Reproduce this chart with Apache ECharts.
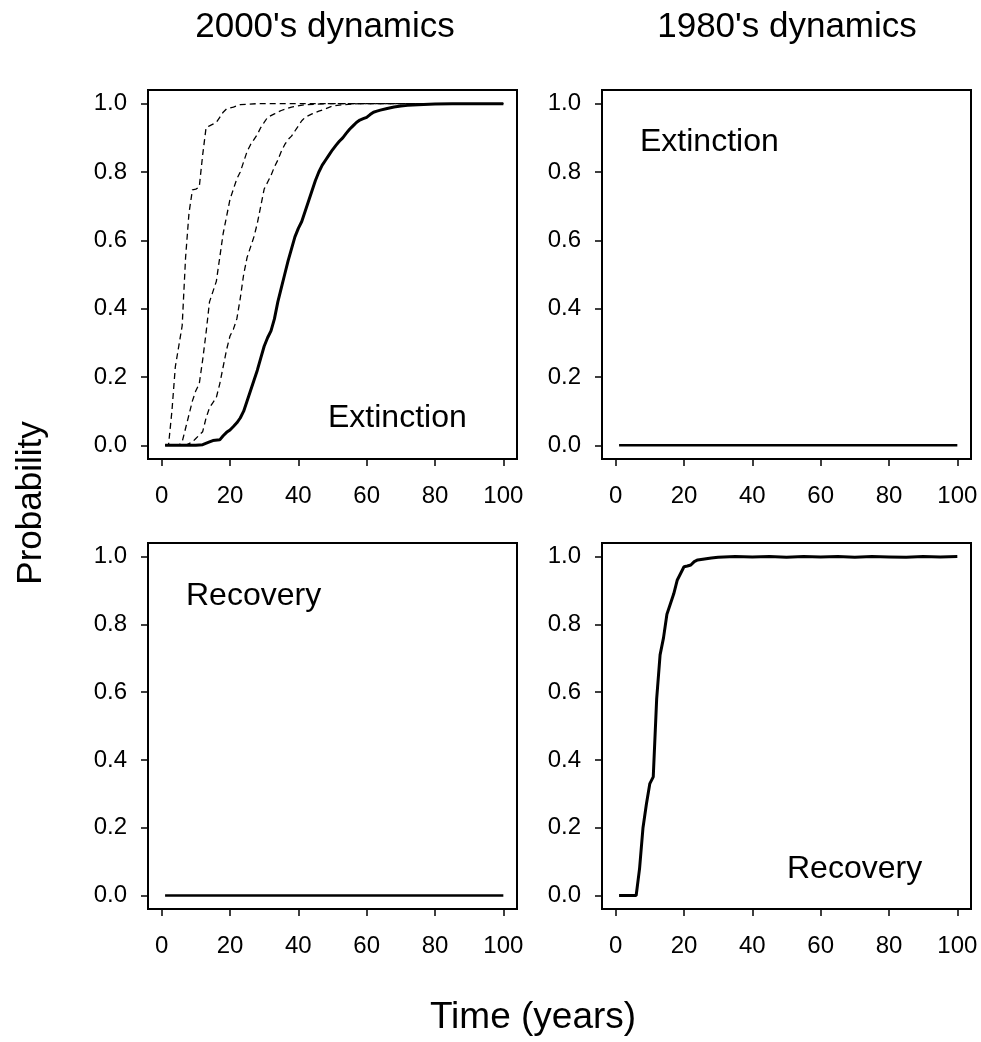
<!DOCTYPE html>
<html>
<head>
<meta charset="utf-8">
<script src="https://cdn.jsdelivr.net/npm/echarts@6/dist/echarts.min.js"></script>
<style>
html,body{margin:0;padding:0;background:#fff;}
#chart{width:981px;height:1042px;}
</style>
</head>
<body>
<div id="chart"></div>
<script>
// ---- Data (year, probability) ----
const xTicks = [0, 20, 40, 60, 80, 100];
const yTicks = [0.0, 0.2, 0.4, 0.6, 0.8, 1.0];

const panelTitles = ["2000's dynamics", "1980's dynamics"];
const panelLabels = ["Extinction", "Extinction", "Recovery", "Recovery"];

// 2000's extinction: main (solid) curve
const ext2000Main = [[1,0],[5,0],[10,0],[12,0.002],[14,0.01],[15,0.014],[17,0.016],[18,0.028],[19,0.038],[20,0.045],[21,0.055],[22,0.066],[23,0.08],[24,0.1],[25,0.13],[26,0.16],[27,0.19],[28,0.22],[29,0.255],[30,0.29],[31,0.315],[32,0.335],[33,0.37],[34,0.42],[35,0.46],[36,0.5],[37,0.54],[38,0.575],[39,0.61],[40,0.635],[41,0.655],[42,0.685],[43,0.715],[44,0.745],[45,0.775],[46,0.8],[47,0.82],[48,0.835],[49,0.85],[50,0.865],[51,0.878],[52,0.89],[53,0.9],[54,0.913],[55,0.925],[56,0.935],[57,0.945],[58,0.952],[59,0.956],[60,0.96],[61,0.968],[62,0.975],[63,0.978],[64,0.981],[66,0.986],[68,0.99],[70,0.993],[72,0.995],[75,0.997],[80,0.999],[85,1.0],[100,1.0]];
// 2000's extinction: dashed curves
const ext2000DashA = [[1,0],[2,0],[3,0.1],[4,0.23],[5,0.29],[6,0.35],[7,0.55],[8,0.68],[9,0.748],[10,0.75],[11,0.756],[12,0.85],[13,0.93],[14,0.935],[15,0.94],[16,0.945],[17,0.96],[18,0.975],[19,0.985],[21,0.99],[23,0.997],[28,1.0],[100,1.0]];
const ext2000DashB = [[1,0],[5,0],[6,0.01],[7,0.05],[8,0.09],[9,0.13],[10,0.16],[11,0.18],[12,0.25],[13,0.33],[14,0.42],[15,0.45],[16,0.48],[17,0.55],[18,0.62],[19,0.67],[20,0.72],[21,0.75],[22,0.78],[23,0.8],[24,0.83],[25,0.86],[26,0.88],[27,0.895],[28,0.91],[29,0.93],[30,0.945],[31,0.96],[33,0.97],[35,0.98],[38,0.99],[42,0.997],[48,1.0],[100,1.0]];
const ext2000DashC = [[1,0],[7,0],[8,0.005],[9,0.01],[10,0.02],[11,0.03],[12,0.04],[13,0.08],[14,0.11],[15,0.125],[16,0.14],[17,0.18],[18,0.23],[19,0.28],[20,0.32],[21,0.34],[22,0.37],[23,0.43],[24,0.5],[25,0.55],[26,0.58],[27,0.61],[28,0.65],[29,0.7],[30,0.75],[31,0.77],[32,0.79],[33,0.815],[34,0.835],[35,0.86],[36,0.88],[37,0.895],[38,0.905],[39,0.92],[40,0.935],[41,0.95],[42,0.96],[44,0.97],[46,0.978],[48,0.985],[50,0.993],[53,0.997],[58,1.0],[100,1.0]];
// 1980's extinction
const ext1980 = [[1,0],[100,0]];
// 2000's recovery
const rec2000 = [[1,0],[100,0]];
// 1980's recovery
const rec1980 = [[1,0],[6,0],[7,0.08],[8,0.2],[9,0.27],[10,0.33],[11,0.35],[12,0.58],[13,0.71],[14,0.76],[15,0.83],[16,0.86],[17,0.89],[18,0.93],[19,0.95],[20,0.97],[21,0.972],[22,0.975],[23,0.985],[24,0.99],[26,0.993],[28,0.996],[30,0.998],[35,1.0],[40,0.999],[45,1.0],[50,0.998],[55,1.0],[60,0.999],[65,1.0],[70,0.998],[75,1.0],[80,0.999],[85,0.998],[90,1.0],[95,0.999],[100,1.0]];

// ---- Layout ----
const FONT = 'Liberation Sans, Arial, sans-serif';
const grids = [
  {left:148, top:90, width:369, height:369},
  {left:602, top:90, width:369, height:369},
  {left:148, top:543, width:369, height:366},
  {left:602, top:543, width:369, height:366}
];

const chart = echarts.init(document.getElementById('chart'), null, {renderer:'canvas'});

const xAxes = grids.map((g,i)=>({
  type:'value', gridIndex:i, min:-4, max:104,
  axisLine:{show:false, onZero:false},
  splitLine:{show:false},
  axisTick:{show:true, customValues:xTicks, length:7, lineStyle:{color:'#000', width:1.5}},
  axisLabel:{show:true, customValues:xTicks, margin:25, color:'#000', fontSize:24, fontFamily:FONT}
}));
const yAxes = grids.map((g,i)=>({
  type:'value', gridIndex:i, min:-0.04, max:1.04,
  axisLine:{show:false, onZero:false},
  splitLine:{show:false},
  axisTick:{show:true, customValues:yTicks, length:7, lineStyle:{color:'#000', width:1.5}},
  axisLabel:{show:true, customValues:yTicks, margin:21, color:'#000', fontSize:24, fontFamily:FONT,
             formatter:v=>Number(v).toFixed(1)}
}));

function solid(data, idx, w){
  return {type:'line', xAxisIndex:idx, yAxisIndex:idx, data:data, showSymbol:false, symbol:'none',
          lineStyle:{color:'#000', width:w||3}, silent:true};
}
function dashed(data, idx){
  return {type:'line', xAxisIndex:idx, yAxisIndex:idx, data:data, showSymbol:false, symbol:'none',
          lineStyle:{color:'#000', width:1.3, type:[6,4]}, silent:true};
}

const series = [
  dashed(ext2000DashA,0), dashed(ext2000DashB,0), dashed(ext2000DashC,0),
  solid(ext2000Main,0,3),
  solid(ext1980,1,2.5),
  solid(rec2000,2,2.5),
  solid(rec1980,3,3)
];

function txt(text, x, y, size, align, rot){
  return {type:'text', x:x, y:y, rotation:rot||0,
    style:{text:text, fill:'#000', font: size+'px '+FONT, textAlign:align||'center', textVerticalAlign:'middle'}};
}

const graphics = [
  txt(panelTitles[0], 325, 27, 35),
  txt(panelTitles[1], 787, 27, 35),
  txt('Probability', 31, 503, 35, 'center', Math.PI/2),
  txt('Time (years)', 533, 1018, 37),
  txt(panelLabels[0], 328, 418, 32, 'left'),
  txt(panelLabels[1], 640, 142, 32, 'left'),
  txt(panelLabels[2], 186, 596, 32, 'left'),
  txt(panelLabels[3], 787, 869, 32, 'left')
];

chart.setOption({
  animation:false,
  backgroundColor:'#fff',
  grid: grids.map(g=>Object.assign({show:true, borderColor:'#000', borderWidth:2, backgroundColor:'transparent'}, g)),
  xAxis: xAxes,
  yAxis: yAxes,
  series: series,
  graphic: graphics
});
</script>
</body>
</html>
